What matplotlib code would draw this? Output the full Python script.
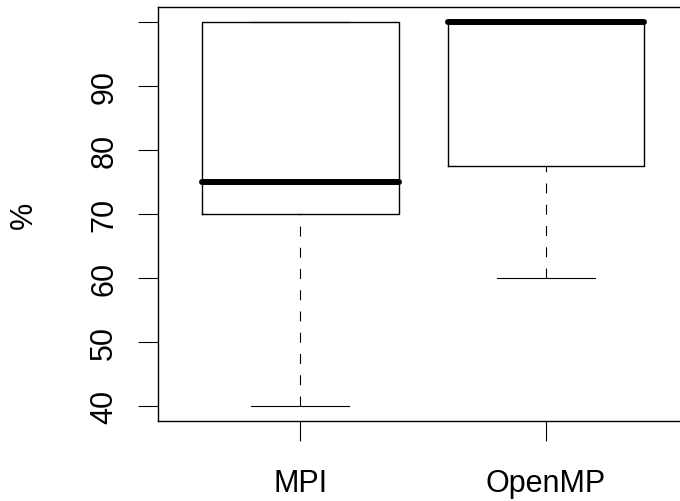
import matplotlib
matplotlib.use("Agg")
import matplotlib.pyplot as plt

plt.rcParams['font.family'] = ['Liberation Sans', 'DejaVu Sans']
plt.rcParams['lines.scale_dashes'] = False

categories = ['MPI', 'OpenMP']
whisker_low = [40, 60]
q1 = [70, 77.5]
median = [75, 100]
q3 = [100, 100]
whisker_high = [100, 100]
y_ticks = [40, 50, 60, 70, 80, 90, 100]
y_tick_labels = ['40', '50', '60', '70', '80', '90', '']
y_label = '%'

fig = plt.figure(figsize=(6.8, 5.02), dpi=100)
W, H = 680, 502
ax = fig.add_axes([158 / W, (H - 422.3) / H, (688.3 - 158) / W, (422.3 - 8) / H])

stats = []
for i, c in enumerate(categories):
    stats.append(dict(label=c, med=median[i], q1=q1[i], q3=q3[i],
                      whislo=whisker_low[i], whishi=whisker_high[i], fliers=[]))

positions = list(range(1, len(categories) + 1))
res = ax.bxp(stats, positions=positions, widths=0.8, capwidths=0.4,
             showfliers=False, manage_ticks=False,
             boxprops=dict(color='black', linewidth=1.0),
             whiskerprops=dict(color='black', linewidth=0.8, linestyle=(0, (7.2, 8.1))),
             capprops=dict(color='black', linewidth=0.8),
             medianprops=dict(color='black', linewidth=4.3, solid_capstyle='round'))
# R draws whiskers from whisker end toward the box
for wl in res['whiskers']:
    yd = list(wl.get_ydata())
    wl.set_ydata(yd[::-1])

ax.set_xlim(0.42, 2.58)
ax.set_ylim(37.6, 102.4)

ax.set_xticks(positions)
ax.set_xticklabels(categories)
ax.set_yticks(y_ticks)
ax.set_yticklabels(y_tick_labels)
ax.tick_params(axis='x', length=14.4, width=0.8, pad=19.4, labelsize=22, color='black')
ax.tick_params(axis='y', length=14.4, width=0.8, pad=13.5, labelsize=22, labelrotation=90, color='black')
for lab in ax.get_yticklabels():
    lab.set_va('center')

for sp in ax.spines.values():
    sp.set_linewidth(1.0)
    sp.set_color('black')

fig.text(24.3 / W, 1 - 215 / H, y_label, rotation=90, ha='center', va='center', fontsize=22)

fig.savefig('out.png', dpi=100)
